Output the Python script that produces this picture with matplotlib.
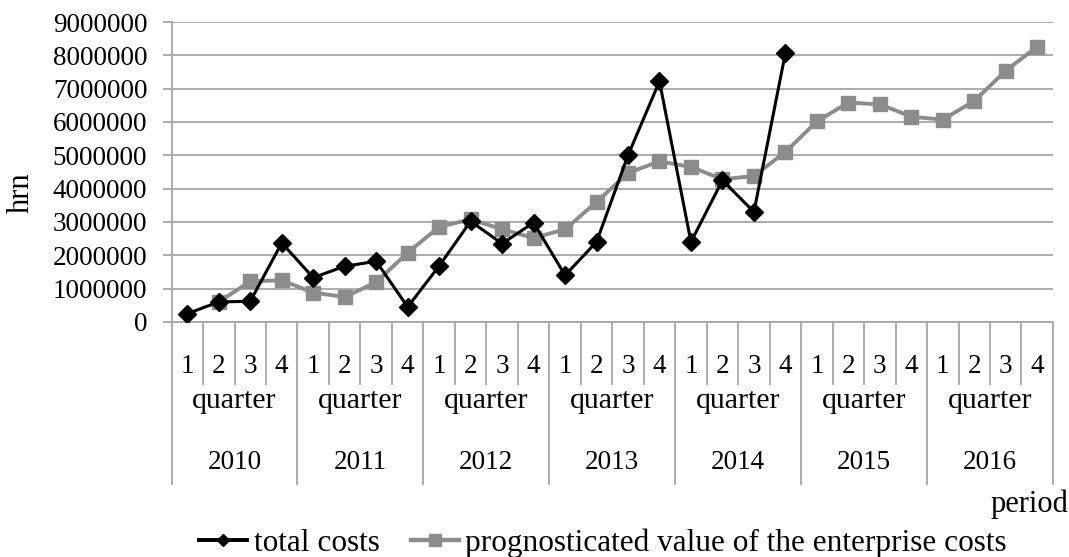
import matplotlib.pyplot as plt
import matplotlib.transforms as mtransforms
from matplotlib.lines import Line2D

plt.rcParams['font.family'] = ['Liberation Serif', 'DejaVu Serif']

# dados
anos = ['2010', '2011', '2012', '2013', '2014', '2015', '2016']
trimestres = ['1', '2', '3', '4']
custos_totais = [250000, 600000, 620000, 2370000,
                 1330000, 1670000, 1820000, 450000,
                 1680000, 3020000, 2350000, 2980000,
                 1400000, 2400000, 5000000, 7220000,
                 2400000, 4250000, 3300000, 8070000]
custos_previstos = [None, 600000, 1220000, 1250000,
                    880000, 750000, 1190000, 2080000,
                    2850000, 3080000, 2780000, 2520000,
                    2780000, 3600000, 4470000, 4820000,
                    4650000, 4280000, 4380000, 5100000,
                    6020000, 6580000, 6530000, 6160000,
                    6070000, 6630000, 7540000, 8260000]

n = len(anos) * len(trimestres)
xs = [i + 0.5 for i in range(n)]

fig = plt.figure(figsize=(10.69, 5.57), dpi=100)
ax = fig.add_axes([0.1605, 0.422, 0.8245, 0.5385])

cinza = '#a6a6a6'
ax.plot(xs[:len(custos_totais)], custos_totais, color='black', lw=2.2,
        marker='D', ms=9, zorder=4, label='total costs')
prev_x = [x for x, v in zip(xs, custos_previstos) if v is not None]
prev_y = [v for v in custos_previstos if v is not None]
ax.plot(prev_x, prev_y, color='#8c8c8c', lw=2.8, marker='s', ms=10,
        zorder=3, label='prognosticated value of the enterprise costs')

ax.set_ylim(0, 9000000)
ax.set_yticks(range(0, 9000001, 1000000))
ax.set_yticklabels([str(v) for v in range(0, 9000001, 1000000)], fontsize=19.5)
ax.yaxis.grid(True, color=cinza, lw=1.3)
ax.set_axisbelow(True)
ax.tick_params(axis='y', length=6.5, color=cinza, width=1.3, pad=11)

fig.text(21 / 1069, 1 - 193 / 557, 'hrn', rotation=90, ha='center', va='center',
         fontsize=22)

ax.set_xlim(0, n)
for s in ['top', 'right']:
    ax.spines[s].set_visible(False)
for s in ['left', 'bottom']:
    ax.spines[s].set_color(cinza)
    ax.spines[s].set_linewidth(1.3)

# divisores das categorias (trimestres curtos, anos longos)
ax.set_xticks(range(0, n + 1, 4))
ax.set_xticks([k for k in range(n + 1) if k % 4], minor=True)
ax.set_xticklabels([])
ax.tick_params(axis='x', which='major', length=117, color=cinza, width=1.3)
ax.tick_params(axis='x', which='minor', length=45, color=cinza, width=1.3)

trans = mtransforms.blended_transform_factory(ax.transData, ax.transAxes)
for i in range(n):
    ax.text(xs[i], -0.15, trimestres[i % 4], transform=trans,
            ha='center', va='center', fontsize=19.5)
for j, ano in enumerate(anos):
    centro = j * 4 + 2
    ax.text(centro, -0.262, 'quarter', transform=trans,
            ha='center', va='center', fontsize=21.5)
    ax.text(centro, -0.47, ano, transform=trans,
            ha='center', va='center', fontsize=19.5)

fig.text(1068 / 1069, 1 - 504 / 557, 'period', ha='right', va='center', fontsize=22)

handles = [Line2D([], [], color='black', lw=2.8, marker='D', ms=6),
           Line2D([], [], color='#8c8c8c', lw=3.2, marker='s', ms=8)]
fig.legend(handles, ['total costs', 'prognosticated value of the enterprise costs'],
           loc='center', bbox_to_anchor=(0.564, 0.024), ncol=2, frameon=False,
           fontsize=22.5, handlelength=1.55, handletextpad=0.2, columnspacing=1.0,
           borderpad=0, borderaxespad=0)

fig.savefig('out.png', dpi=100)
